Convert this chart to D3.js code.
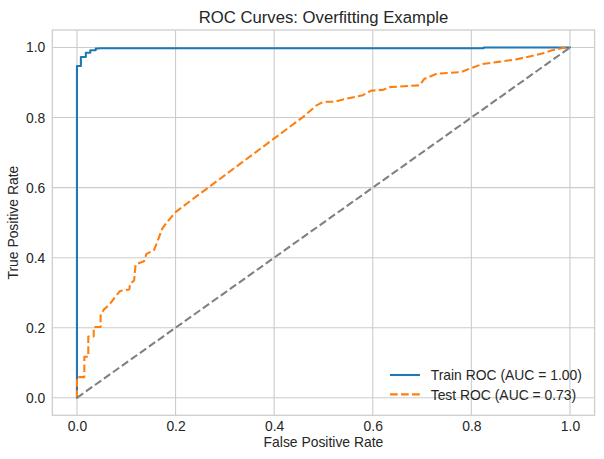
<!DOCTYPE html>
<html>
<head>
<meta charset="utf-8">
<script src="https://cdn.jsdelivr.net/npm/d3@7"></script>
<style>
  body { margin: 0; background: #fff; }
  svg text { font-family: Arial, "Liberation Sans", sans-serif; fill: #262626; }
</style>
</head>
<body>
<svg id="chart" width="604" height="459"></svg>
<script>
// ROC points
var trainFpr = [0, 0, 0.008, 0.008, 0.018, 0.018, 0.027, 0.027, 0.038, 0.038, 0.045, 0.045, 0.825, 0.825, 1.0];
var trainTpr = [0, 0.947, 0.947, 0.973, 0.973, 0.985, 0.985, 0.992, 0.992, 0.997, 0.997, 0.998, 0.998, 1.0, 1.0];

var testFpr = [0, 0, 0.015, 0.015, 0.023, 0.023, 0.034, 0.034, 0.048, 0.048, 0.054, 0.067, 0.075, 0.0875,
  0.106, 0.108, 0.116, 0.119, 0.136, 0.141, 0.156, 0.163, 0.173, 0.183, 0.2, 0.227, 0.459, 0.486, 0.5,
  0.523, 0.547, 0.580, 0.597, 0.621, 0.634, 0.695, 0.705, 0.730, 0.780, 0.797, 0.823, 0.855, 0.89, 0.92,
  0.944, 0.964, 0.99, 1.0];
var testTpr = [0, 0.059, 0.059, 0.117, 0.117, 0.175, 0.175, 0.202, 0.202, 0.235, 0.251, 0.268, 0.283, 0.305,
  0.309, 0.326, 0.335, 0.381, 0.39, 0.411, 0.421, 0.445, 0.483, 0.502, 0.53, 0.559, 0.802, 0.835, 0.845,
  0.845, 0.854, 0.864, 0.877, 0.879, 0.887, 0.892, 0.911, 0.925, 0.930, 0.940, 0.953, 0.959, 0.966, 0.975,
  0.983, 0.992, 1.0, 1.0];

var chanceFpr = [0, 1];
var chanceTpr = [0, 1];

var tickValues = [0, 0.2, 0.4, 0.6, 0.8, 1.0];
var legendLabels = ["Train ROC (AUC = 1.00)", "Test ROC (AUC = 0.73)"];

var svg = d3.select("#chart");

//plot area
var plotLeft = 52.3, plotRight = 594.6, plotTop = 30, plotBottom = 415.3;

var x = d3.scaleLinear().domain([-0.05, 1.05]).range([plotLeft, plotRight]);
var y = d3.scaleLinear().domain([-0.05, 1.05]).range([plotBottom, plotTop]);

//grid
var grid = svg.append("g");
tickValues.forEach(function (t) {
  grid.append("line").attr("x1", x(t)).attr("x2", x(t)).attr("y1", plotTop).attr("y2", plotBottom)
    .attr("stroke", "#cccccc").attr("stroke-width", 1.1);
  grid.append("line").attr("y1", y(t)).attr("y2", y(t)).attr("x1", plotLeft).attr("x2", plotRight)
    .attr("stroke", "#cccccc").attr("stroke-width", 1.1);
});

//axes (no tick marks, labels only)
var xAxis = d3.axisBottom(x).tickValues(tickValues).tickFormat(d3.format(".1f")).tickSize(0).tickPadding(6);
var yAxis = d3.axisLeft(y).tickValues(tickValues).tickFormat(d3.format(".1f")).tickSize(0).tickPadding(7);

var gx = svg.append("g").attr("transform", "translate(0," + plotBottom + ")").call(xAxis);
var gy = svg.append("g").attr("transform", "translate(" + plotLeft + ",0)").call(yAxis);
[gx, gy].forEach(function (g) {
  g.select(".domain").remove();
  g.selectAll("text").style("font-size", "13.9px").style("fill", "#262626")
    .style("font-family", "Arial, 'Liberation Sans', sans-serif");
});

//lines
var line = d3.line().x(d => x(d[0])).y(d => y(d[1]));
svg.append("clipPath").attr("id", "plotclip").append("rect")
  .attr("x", plotLeft).attr("y", plotTop).attr("width", plotRight - plotLeft).attr("height", plotBottom - plotTop);

var plot = svg.append("g").attr("clip-path", "url(#plotclip)");

plot.append("path").datum(d3.zip(trainFpr, trainTpr)).attr("d", line)
  .attr("fill", "none").attr("stroke", "#1f77b4").attr("stroke-width", 2.08)
  .attr("stroke-linejoin", "round").attr("stroke-linecap", "round");

plot.append("path").datum(d3.zip(testFpr, testTpr)).attr("d", line)
  .attr("fill", "none").attr("stroke", "#ff7f0e").attr("stroke-width", 2.08)
  .attr("stroke-dasharray", "7.7,3.33").attr("stroke-linejoin", "round");

plot.append("path").datum(d3.zip(chanceFpr, chanceTpr)).attr("d", line)
  .attr("fill", "none").attr("stroke", "#808080").attr("stroke-width", 2.08)
  .attr("stroke-dasharray", "7.7,3.33");

//spines
svg.append("rect").attr("x", plotLeft).attr("y", plotTop)
  .attr("width", plotRight - plotLeft).attr("height", plotBottom - plotTop)
  .attr("fill", "none").attr("stroke", "#cccccc").attr("stroke-width", 1.25);

//title and axis labels
svg.append("text").attr("x", (plotLeft + plotRight) / 2).attr("y", 22.7).attr("text-anchor", "middle")
  .style("font-size", "16.7px").text("ROC Curves: Overfitting Example");
svg.append("text").attr("x", (plotLeft + plotRight) / 2).attr("y", 446.5).attr("text-anchor", "middle")
  .style("font-size", "13.9px").text("False Positive Rate");
svg.append("text").attr("transform", "translate(18.3," + ((plotTop + plotBottom) / 2) + ") rotate(-90)")
  .attr("text-anchor", "middle").style("font-size", "13.9px").text("True Positive Rate");

//legend
var legend = svg.append("g");
var legendStyles = [
  { color: "#1f77b4", dash: null },
  { color: "#ff7f0e", dash: "7.7,3.33" }
];
legendLabels.forEach(function (label, i) {
  var ly = 375 + i * 19.4;
  legend.append("line").attr("x1", 390).attr("x2", 420).attr("y1", ly).attr("y2", ly)
    .attr("stroke", legendStyles[i].color).attr("stroke-width", 2.08)
    .attr("stroke-dasharray", legendStyles[i].dash);
  legend.append("text").attr("x", 430.7).attr("y", ly + 5.2).style("font-size", "13.9px").text(label);
});
</script>
</body>
</html>
